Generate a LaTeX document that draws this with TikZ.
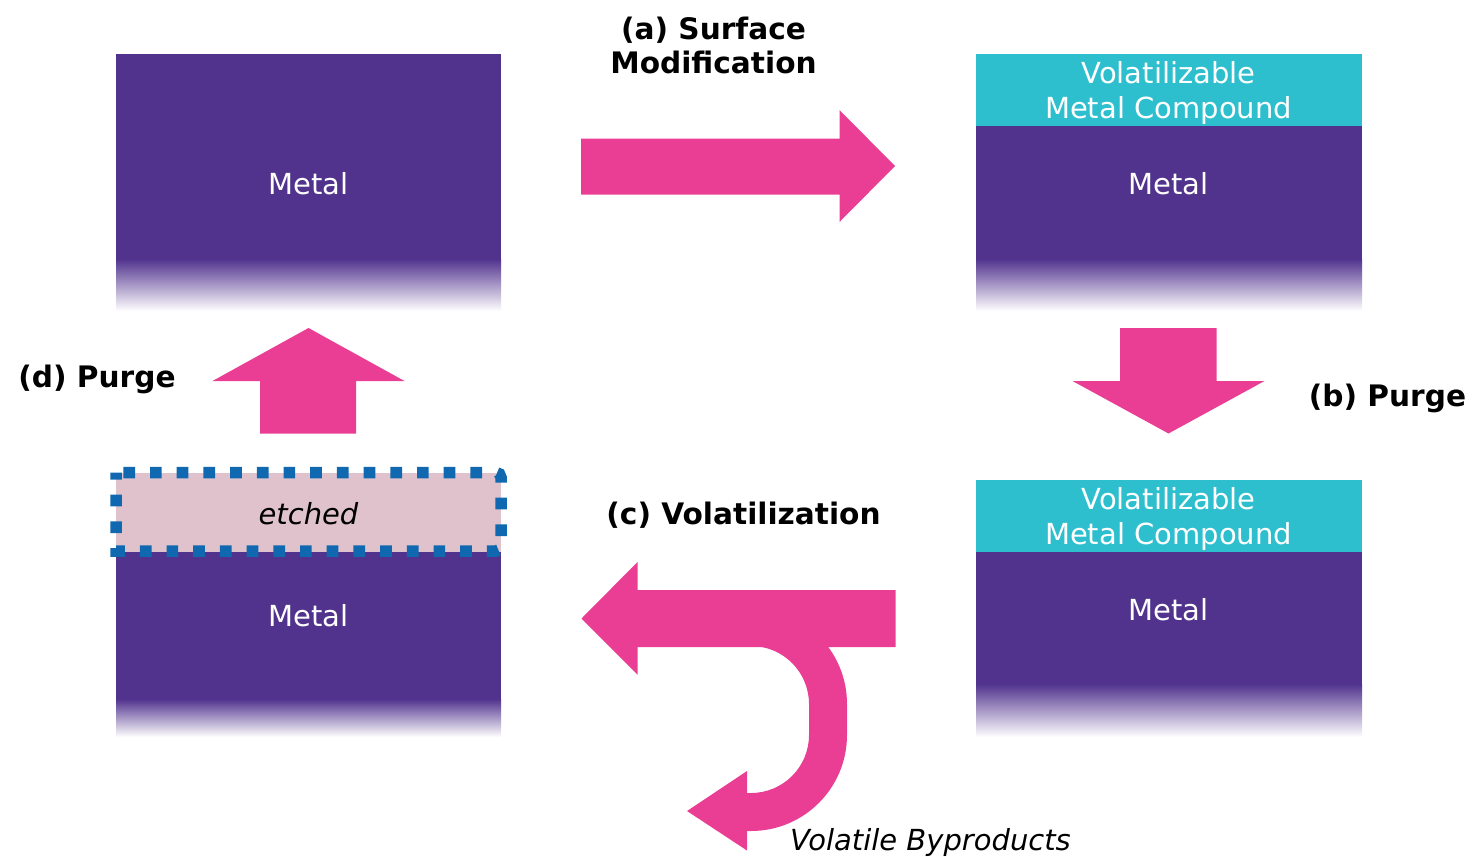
\documentclass[tikz,border=0pt]{standalone}
\usepackage{fontspec}
\setmainfont{DejaVu Sans}
\definecolor{metal}{RGB}{81,51,142}
\definecolor{compound}{RGB}{46,191,207}
\definecolor{flow}{RGB}{234,62,148}
\definecolor{etchfill}{RGB}{224,194,204}
\definecolor{etchline}{RGB}{16,104,176}
\begin{document}
\begin{tikzpicture}[x=1pt,y=-1pt,
  steplbl/.style={inner sep=0pt, align=center, font=\fontsize{29.6}{34}\selectfont\bfseries},
  inlbl/.style={inner sep=0pt, align=center, text=white, font=\fontsize{29}{35}\selectfont},
  slant/.style={inner sep=0pt, font=\fontsize{29}{35}\selectfont\itshape},
  fade/.style={top color=metal, bottom color=white},
  flowarrow/.style={fill=flow},
  etchborder/.style={draw=etchline, line width=11.5pt, dash pattern=on 11.7pt off 15pt, dash phase=19.4pt}]
\useasboundingbox (0,0) rectangle (1473,857);

% top left: bare metal
\fill[metal] (116,54) rectangle (501,259.5);
\shade[fade] (116,259) rectangle (501,311);

% top right: modified surface layer on metal
\fill[compound] (976,54) rectangle (1362,126);
\fill[metal] (976,126) rectangle (1362,259.5);
\shade[fade] (976,259) rectangle (1362,311);

% bottom right: after purge
\fill[compound] (976,480) rectangle (1362,552);
\fill[metal] (976,552) rectangle (1362,684.5);
\shade[fade] (976,684) rectangle (1362,737);

% bottom left: etched layer removed
\fill[etchfill] (116,473) rectangle (501,552);
\fill[metal] (116,551.5) rectangle (501,699.5);
\shade[fade] (116,699) rectangle (501,737);
\draw[etchborder] (116,472.5) [rounded corners=5pt] -- (501,472.5) -- (501,551)
  [sharp corners] -- (116,551) -- cycle;

% (a) arrow to the right
\fill[flowarrow] (581,138.5) -- (839.5,138.5) -- (839.5,110) -- (895,166)
  -- (839.5,222) -- (839.5,194.5) -- (581,194.5) -- cycle;
% (b) arrow down
\fill[flowarrow] (1120,328) -- (1216.5,328) -- (1216.5,381) -- (1264.5,381)
  -- (1168.5,433.5) -- (1072.5,381) -- (1120,381) -- cycle;
% (d) arrow up
\fill[flowarrow] (260,433.5) -- (260,381) -- (212.5,381) -- (308.5,328)
  -- (404.5,381) -- (356,381) -- (356,433.5) -- cycle;
% (c) arrow to the left with a branch curling down
\fill[flowarrow] (895.5,590) -- (637.5,590) -- (637.5,562) -- (581.5,618.5)
  -- (637.5,674.5) -- (637.5,647) -- (895.5,647) -- cycle;
\fill[flowarrow] (751,608) arc[start angle=90, end angle=0, radius=96pt]
  -- (847,735) arc[start angle=0, end angle=-90, radius=96pt]
  -- (745,831) -- (745,793) -- (751,793)
  arc[start angle=-90, end angle=0, radius=58pt]
  -- (809,704) arc[start angle=0, end angle=90, radius=58pt] -- cycle;
\fill[flowarrow] (747,771) -- (687,811) -- (747,850.5) -- cycle;

% labels
\node[inlbl] (metalA) at (308.5,183.5) {Metal};
\node[inlbl] (cmpB) at (1168.5,92.5) {Volatilizable\\Metal Compound};
\node[inlbl] (metalB) at (1168.5,183.5) {Metal};
\node[inlbl] (cmpC) at (1168.5,518.5) {Volatilizable\\Metal Compound};
\node[inlbl] (metalC) at (1168.5,609.5) {Metal};
\node[slant] (etch) at (308.5,514) {etched};
\node[inlbl] (metalD) at (308.5,615.5) {Metal};

\node[steplbl] (labA) at (713.5,45) {(a) Surface\\Modification};
\node[steplbl] (labB) at (1387.5,398.5) {(b) Purge};
\node[steplbl] (labC) at (743.5,515.5) {(c) Volatilization};
\node[steplbl] (labD) at (97,379.5) {(d) Purge};
\node[slant] (byprod) at (930.5,842.5) {Volatile Byproducts};
\end{tikzpicture}
\end{document}
